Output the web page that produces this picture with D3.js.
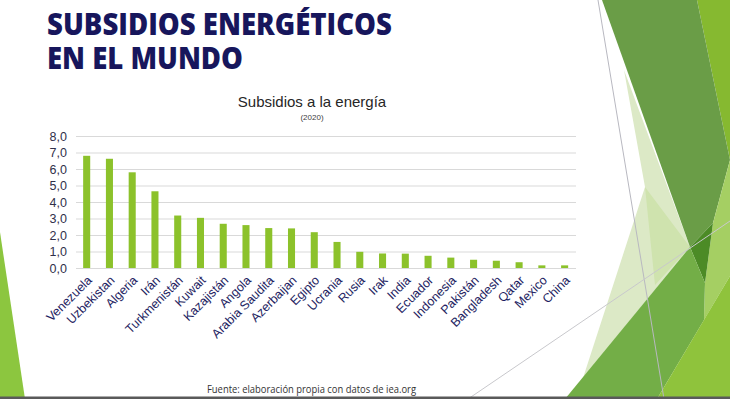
<!DOCTYPE html>
<html><head><meta charset="utf-8">
<script src="https://cdn.jsdelivr.net/npm/d3@7"></script>
<style>html,body{margin:0;padding:0;background:#fff;overflow:hidden}</style>
</head><body>
<svg id="c" width="730" height="399"></svg>
<script>
const categories = ["Venezuela","Uzbekistan","Algeria","Irán","Turkmenistán","Kuwait","Kazajistán","Angola","Arabia Saudita","Azerbaijan","Egipto","Ucrania","Rusia","Irak","India","Ecuador","Indonesia","Pakistán","Bangladesh","Qatar","Mexico","China"];
const values = [6.8,6.62,5.8,4.65,3.18,3.04,2.68,2.6,2.42,2.4,2.17,1.58,0.98,0.88,0.87,0.74,0.63,0.5,0.44,0.35,0.16,0.16];
const yTicks = [0,1,2,3,4,5,6,7,8];
const slideTitle = ["SUBSIDIOS ENERGÉTICOS","EN EL MUNDO"];
const chartTitle = "Subsidios a la energía";
const chartSubtitle = "(2020)";
const footer = "Fuente: elaboración propia con datos de iea.org";

const svg = d3.select("#c");

// decorative background shapes (slide theme)
const deco = svg.append("g");
const poly = (pts, fill, op) => deco.append("polygon").attr("points", pts.map(p=>p.join(",")).join(" ")).attr("fill", fill).attr("fill-opacity", op||1);
poly([[0,232],[25,399],[0,399]], "#8cc63f");
poly([[624,70],[645,187],[583,378],[690,247]], "#dce9c6");
poly([[645,187],[690,247],[655,285]], "#cfe3ae");
poly([[697,0],[730,0],[730,160]], "#86b930");
poly([[602,0],[697,0],[730,160],[713,223],[690,247]], "#6a9d47");
poly([[730,160],[713,223],[705,283],[704,320],[730,276]], "#a5cf63");
poly([[690,247],[713,223],[705,283]], "#4c8b26");
poly([[565,399],[690,247],[705,283],[704,320],[657,399]], "#73ae47");
poly([[657,399],[730,276],[730,399]], "#8fc33c");
deco.append("line").attr("x1",598).attr("y1",0).attr("x2",664).attr("y2",399).attr("stroke","#b8b8c0").attr("stroke-width",1);
deco.append("line").attr("x1",468).attr("y1",399).attr("x2",730).attr("y2",221).attr("stroke","#c8c8cc").attr("stroke-width",1);
deco.append("rect").attr("x",0).attr("y",396.5).attr("width",730).attr("height",2.5).attr("fill","#5a5a5a");

// slide title (one text, two lines)
const tw = [345, 196];
const title = svg.append("text")
  .attr("font-family","'Open Sans', sans-serif").attr("font-weight",800)
  .attr("font-size",30.5).attr("fill","#17165c");
slideTitle.forEach((t,i)=>{
  title.append("tspan").attr("x",47).attr("y",35+i*33.5).text(t)
    .attr("textLength",tw[i]).attr("lengthAdjust","spacingAndGlyphs");
});

// chart title
svg.append("text").attr("x",312).attr("y",107).attr("text-anchor","middle").text(chartTitle)
  .attr("font-family","Arial, 'Liberation Sans', sans-serif").attr("font-size",15).attr("fill","#262626");
svg.append("text").attr("x",312).attr("y",120).attr("text-anchor","middle").text(chartSubtitle)
  .attr("font-family","Arial, 'Liberation Sans', sans-serif").attr("font-size",8).attr("fill","#404040");

// scales
const x = d3.scaleBand().domain(categories).range([75.3,576]).paddingInner(0.69).paddingOuter(0.345);
const y = d3.scaleLinear().domain([0,8]).range([268,136]);

// gridlines
svg.append("g").selectAll("line").data(yTicks).join("line")
  .attr("x1",76).attr("x2",576).attr("y1",d=>y(d)+0.5).attr("y2",d=>y(d)+0.5)
  .attr("stroke","#d9d9d9").attr("stroke-width",1);

// y axis
const yAxis = svg.append("g").attr("transform","translate(76,0)")
  .call(d3.axisLeft(y).tickValues(yTicks).tickSize(0).tickPadding(9).tickFormat(d=>d3.format(".1f")(d).replace(".",",")));
yAxis.select(".domain").remove();
yAxis.selectAll("text").attr("font-family","Arial, 'Liberation Sans', sans-serif").attr("font-size",12.5).attr("fill","#30304a");

// bars
svg.append("g").selectAll("rect").data(values).join("rect")
  .attr("x",(d,i)=>x(categories[i])).attr("width",x.bandwidth())
  .attr("y",d=>y(d)).attr("height",d=>y(0)-y(d)).attr("fill","#8cc22b");

// x axis labels
const xAxis = svg.append("g").attr("transform","translate(0,268)")
  .call(d3.axisBottom(x).tickSize(0).tickPadding(0));
xAxis.select(".domain").remove();
xAxis.selectAll("text")
  .attr("font-family","Arial, 'Liberation Sans', sans-serif").attr("font-size",12.5).attr("fill","#1e1e62")
  .attr("text-anchor","end").attr("dy",0).attr("y",0)
  .attr("transform","translate(6,13) rotate(-45)");

// footer
svg.append("text").attr("x",207).attr("y",393).text(footer)
  .attr("font-family","'Open Sans', sans-serif").attr("font-size",10).attr("fill","#333")
  .attr("textLength",209).attr("lengthAdjust","spacingAndGlyphs");
</script>
</body></html>
